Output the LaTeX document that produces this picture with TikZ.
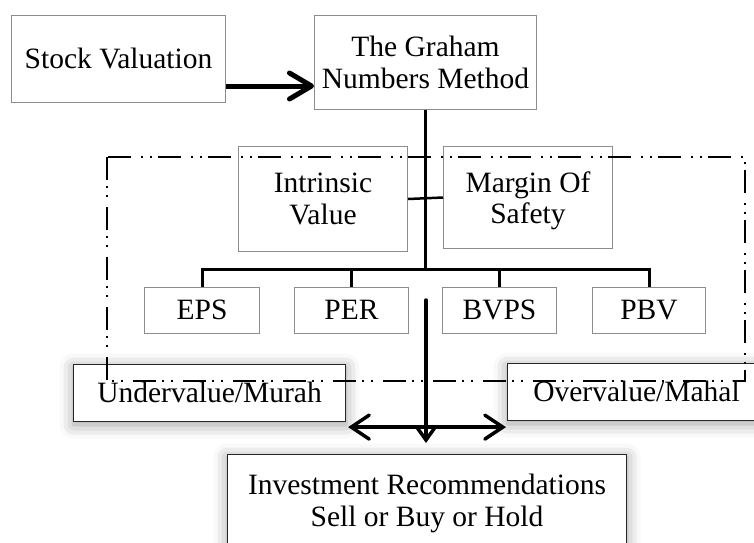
\documentclass[tikz,border=0pt]{standalone}
\usepackage{fontspec}
\setmainfont{Liberation Serif}
\usetikzlibrary{arrows.meta,shadows.blur}

\begin{document}
\begin{tikzpicture}[x=1pt,y=-1pt,
  txt/.style={font=\fontsize{29.5}{31.5}\selectfont, align=center},
  oneline/.style={text height=21pt, text depth=3pt},
  greybox/.style={txt, draw=black!45, line width=1pt, fill=white,
    inner sep=0pt, anchor=north west},
  darkbox/.style={txt, draw=black!85, line width=1.1pt, fill=white,
    inner sep=0pt, anchor=north west,
    blur shadow={shadow xshift=0pt, shadow yshift=-3pt,
      shadow blur radius=14pt, shadow opacity=40}},
  bigarrow/.style={line width=5pt,
    -{Straight Barb[length=22pt,width=26pt,line cap=round,line join=round]}},
  trunk/.style={line width=3pt},
  branch/.style={line width=2.5pt},
  stemline/.style={line width=3.5pt, line cap=round,
    -{Straight Barb[length=14pt,width=20pt,line join=miter]}},
  twoway/.style={line width=3.5pt,
    {Straight Barb[length=18pt,width=24pt,line cap=round]}-{Straight Barb[length=18pt,width=24pt,line cap=round]}},
  frame/.style={line width=2.3pt,
    dash pattern=on 23pt off 6pt on 2pt off 7pt on 2pt off 10pt}
]
\useasboundingbox (0,0) rectangle (754,542);
\begin{scope}
\clip (0,0) rectangle (754,542);

% top row
\node[greybox, oneline, minimum width=214pt, minimum height=87pt] (sv) at (11,15) {Stock Valuation};
\node[greybox, minimum width=222pt, minimum height=94pt] (gn) at (314,15) {The Graham\\Numbers Method};

% the two criteria
\node[greybox, minimum width=169pt, minimum height=105pt] (iv) at (238,146) {Intrinsic\\Value};
\node[greybox, minimum width=169pt, minimum height=102pt, text depth=0pt] (ms) at (443,146) {Margin Of\\Safety};

% ratios
\node[greybox, oneline, minimum width=115pt, minimum height=46pt] (eps) at (144,287) {EPS};
\node[greybox, oneline, minimum width=114pt, minimum height=46pt] (per) at (294,287) {PER};
\node[greybox, oneline, minimum width=114pt, minimum height=46pt] (bvps) at (442,287) {BVPS};
\node[greybox, oneline, minimum width=113pt, minimum height=46pt] (pbv) at (592,287) {PBV};

% outcomes
\node[darkbox, oneline, minimum width=272pt, minimum height=57pt] (under) at (73,364) {Undervalue/Murah};
\node[darkbox, oneline, minimum width=258pt, minimum height=57pt] (over) at (507,363) {Overvalue/Mahal};
\node[darkbox, minimum width=399pt, minimum height=98pt] (invest) at (227,454) {Investment Recommendations\\Sell or Buy or Hold};

% connectors
\draw[bigarrow] ([yshift=17pt]sv.south east) -- ([yshift=17pt]sv.south east -| gn.west);

\coordinate (bar) at (425,269);
\draw[trunk] (gn.south) -- (gn.south |- bar);
\draw[branch] (iv.east) -- (ms.west);
\draw[trunk] (eps.north) -- (eps.north |- bar) -- (pbv.north |- bar) -- (pbv.north);
\draw[branch] (per.north) -- (per.north |- bar);
\draw[branch] (bvps.north) -- (bvps.north |- bar);

\coordinate (stemtop) at (426,300);
\coordinate (stemend) at (426,443);
\draw[stemline] (stemtop) -- (stemend);
\draw[twoway] ([shift={(2pt,-5pt)}]under.south east) -- ([shift={(-1pt,-6pt)}]over.south west);

% the dash-dot-dot frame round the valuation criteria
\draw[frame] (107,157) rectangle (745,381);
\end{scope}
\end{tikzpicture}
\end{document}
